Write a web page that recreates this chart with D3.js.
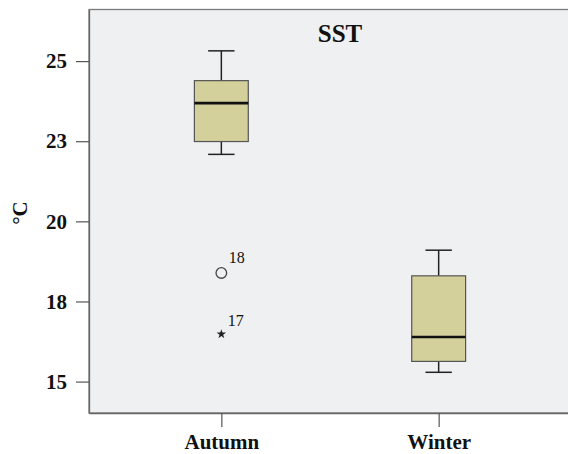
<!DOCTYPE html>
<html><head><meta charset="utf-8">
<script src="https://cdn.jsdelivr.net/npm/d3@7"></script>
<style>body{margin:0;background:#fff}svg{display:block}</style>
</head><body>
<svg id="c" width="568" height="454"></svg>
<script>
const categories = ["Autumn", "Winter"];
const whiskerLow = [22.09, 15.29];
const q1 = [22.49, 15.63];
const median = [23.69, 16.39];
const q3 = [24.39, 18.30];
const whiskerHigh = [25.32, 19.10];
const outliers = [
  {cat: "Autumn", value: 18.39, label: "18", type: "circle"},
  {cat: "Autumn", value: 16.48, label: "17", type: "star"}
];
const yTickValues = [15, 17.5, 20, 22.5, 25];
const yTickLabels = ["15", "18", "20", "23", "25"];
const title = "SST";
const yTitle = "°C";

const svg = d3.select("#c");
const L = 89, R = 571, T = 9.5, B = 413;
const x = d3.scalePoint().domain(categories).range([L, R]).padding(0.609);
const y = d3.scaleLinear().domain([14.02, 26.61]).range([B, T]);
const serif = "'Liberation Serif','Times New Roman',serif";

svg.append("rect").attr("x", L).attr("y", T).attr("width", R - L).attr("height", B - T)
  .attr("fill", "#eff0f2").attr("stroke", "#7a7a7a").attr("stroke-width", 1.3);

// axes
const yAx = svg.append("g").attr("transform", `translate(${L},0)`)
  .call(d3.axisLeft(y).tickValues(yTickValues).tickSize(13).tickSizeOuter(0).tickPadding(9)
    .tickFormat((d, i) => yTickLabels[i]));
yAx.select(".domain").attr("stroke", "#666").attr("stroke-width", 1.3);
yAx.selectAll(".tick line").attr("stroke", "#555").attr("stroke-width", 1.2);
yAx.selectAll(".tick text").attr("font-family", serif).attr("font-size", 21)
  .attr("font-weight", "bold").attr("fill", "#111");

const xAx = svg.append("g").attr("transform", `translate(0,${B})`)
  .call(d3.axisBottom(x).tickSize(14).tickSizeOuter(0).tickPadding(7));
xAx.select(".domain").attr("stroke", "#666").attr("stroke-width", 1.3);
xAx.selectAll(".tick line").attr("stroke", "#555").attr("stroke-width", 1.2);
xAx.selectAll(".tick text").attr("font-family", serif).attr("font-size", 21)
  .attr("font-weight", "bold").attr("fill", "#111");

// boxes
const bw = x.step() * 0.248, cw = bw * 0.49;
categories.forEach((c, i) => {
  const cx = x(c);
  const g = svg.append("g");
  g.append("line").attr("x1", cx).attr("x2", cx).attr("y1", y(whiskerHigh[i])).attr("y2", y(q3[i]))
    .attr("stroke", "#222").attr("stroke-width", 1.5);
  g.append("line").attr("x1", cx).attr("x2", cx).attr("y1", y(q1[i])).attr("y2", y(whiskerLow[i]))
    .attr("stroke", "#222").attr("stroke-width", 1.5);
  g.append("line").attr("x1", cx - cw / 2).attr("x2", cx + cw / 2).attr("y1", y(whiskerHigh[i])).attr("y2", y(whiskerHigh[i]))
    .attr("stroke", "#222").attr("stroke-width", 1.5);
  g.append("line").attr("x1", cx - cw / 2).attr("x2", cx + cw / 2).attr("y1", y(whiskerLow[i])).attr("y2", y(whiskerLow[i]))
    .attr("stroke", "#222").attr("stroke-width", 1.5);
  g.append("rect").attr("x", cx - bw / 2).attr("y", y(q3[i])).attr("width", bw).attr("height", y(q1[i]) - y(q3[i]))
    .attr("fill", "#d3d09b").attr("stroke", "#555").attr("stroke-width", 1.2);
  g.append("line").attr("x1", cx - bw / 2).attr("x2", cx + bw / 2).attr("y1", y(median[i])).attr("y2", y(median[i]))
    .attr("stroke", "#111").attr("stroke-width", 2.6);
});

// outliers
outliers.forEach(o => {
  const cx = x(o.cat), cy = y(o.value);
  if (o.type === "circle") {
    svg.append("circle").attr("cx", cx).attr("cy", cy).attr("r", 5.3)
      .attr("fill", "none").attr("stroke", "#444").attr("stroke-width", 1.3);
    svg.append("text").attr("x", cx + 7.5).attr("y", cy - 10).text(o.label)
      .attr("font-family", serif).attr("font-size", 16).attr("fill", "#111");
  } else {
    svg.append("path").attr("d", d3.symbol(d3.symbolStar, 28)()).attr("transform", `translate(${cx},${cy})`)
      .attr("fill", "#222");
    svg.append("text").attr("x", cx + 6.5).attr("y", cy - 8).text(o.label)
      .attr("font-family", serif).attr("font-size", 16).attr("fill", "#111");
  }
});

svg.append("text").attr("x", 340).attr("y", 41.5).attr("text-anchor", "middle").text(title)
  .attr("font-family", serif).attr("font-size", 25).attr("font-weight", "bold").attr("fill", "#111");
svg.append("text").attr("transform", "translate(27,213) rotate(-90)").attr("text-anchor", "middle").text(yTitle)
  .attr("font-family", serif).attr("font-size", 21).attr("font-weight", "bold").attr("fill", "#111");
</script>
</body></html>
